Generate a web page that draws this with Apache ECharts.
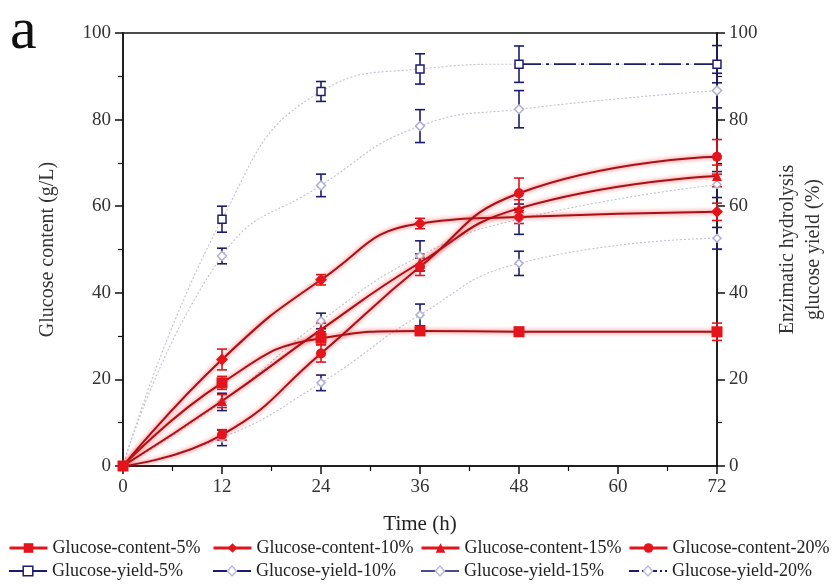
<!DOCTYPE html>
<html><head><meta charset="utf-8">
<script src="https://cdn.jsdelivr.net/npm/echarts@6/dist/echarts.min.js"></script>
<style>html,body{margin:0;padding:0;background:#fff}#c{width:836px;height:584px}</style>
</head><body><div id="c"></div>
<script>
// ---- data ----
const times = [0, 12, 24, 36, 48, 72];
const xTicks = [0, 12, 24, 36, 48, 60, 72];
const yTicks = [0, 20, 40, 60, 80, 100];

const content5 = [0, 19.2, 29.5, 31.2, 31.0, 31.0];
const content5Err = [0, 1.5, 1.5, 1.0, 1.0, 2.0];
const content10 = [0, 24.6, 43.0, 56.0, 57.5, 58.7];
const content10Err = [0, 2.4, 1.2, 1.2, 1.5, 2.0];
const content15 = [0, 15.0, 31.5, 47.0, 59.5, 67.0];
const content15Err = [0, 1.5, 1.5, 2.0, 2.0, 2.5];
const content20 = [0, 7.2, 26.0, 46.0, 63.0, 71.4];
const content20Err = [0, 1.2, 2.0, 2.0, 3.5, 4.0];

const yield5 = [0, 57.0, 86.5, 91.7, 92.8, 92.8];
const yield5Err = [0, 3.0, 2.3, 3.5, 4.2, 4.3];
const yield10 = [0, 48.5, 64.8, 78.5, 82.4, 86.7];
const yield10Err = [0, 1.8, 2.6, 3.8, 4.3, 4.0];
const yield15 = [0, 14.8, 33.5, 48.5, 57.0, 65.0];
const yield15Err = [0, 2.0, 1.8, 3.5, 3.5, 3.0];
const yield20 = [0, 6.5, 19.2, 34.9, 46.8, 52.6];
const yield20Err = [0, 1.8, 1.8, 2.5, 2.8, 2.5];

const names = ['Glucose-content-5%', 'Glucose-content-10%', 'Glucose-content-15%', 'Glucose-content-20%',
               'Glucose-yield-5%', 'Glucose-yield-10%', 'Glucose-yield-15%', 'Glucose-yield-20%'];

// ---- helpers ----
const RED = '#e3141c', REDLINE = '#a80f17', NAVY = '#1c1c6e', LIGHT = '#aeb0d4', DOT = '#c0c0d2';
const FONT = 'Liberation Serif';

function pairs(vals) { return times.map((t, i) => [t, vals[i]]); }
function errData(vals, errs) {
  return times.map((t, i) => [t, vals[i] - errs[i], vals[i] + errs[i]]).filter((d, i) => errs[i] > 0);
}
function errSeries(vals, errs, color, yIdx) {
  return {
    type: 'custom', yAxisIndex: yIdx, silent: true, z: 3,
    data: errData(vals, errs),
    renderItem: function (params, api) {
      const x = api.value(0), lo = api.value(1), hi = api.value(2);
      const t = api.coord([x, hi]), b = api.coord([x, lo]);
      const w = 5, st = { stroke: color, lineWidth: 1.6 };
      return { type: 'group', children: [
        { type: 'line', shape: { x1: t[0], y1: t[1], x2: b[0], y2: b[1] }, style: st },
        { type: 'line', shape: { x1: t[0] - w, y1: t[1], x2: t[0] + w, y2: t[1] }, style: st },
        { type: 'line', shape: { x1: b[0] - w, y1: b[1], x2: b[0] + w, y2: b[1] }, style: st }
      ]};
    }
  };
}
function redLine(name, vals, symbol, size) {
  return {
    name: name, type: 'line', yAxisIndex: 0, data: pairs(vals), smooth: 0.5,
    symbol: symbol, symbolSize: size, z: 5,
    itemStyle: { color: RED },
    lineStyle: { color: REDLINE, width: 2, shadowColor: 'rgba(255,30,30,0.8)', shadowBlur: 4 }
  };
}
function yieldLine(name, vals, symbol, size, border) {
  return {
    name: name, type: 'line', yAxisIndex: 1, data: pairs(vals), smooth: 0.5,
    symbol: symbol, symbolSize: size, z: 4,
    itemStyle: { color: '#fff', borderColor: border, borderWidth: 1.5 },
    lineStyle: { color: DOT, width: 1.1, type: [2, 2] }
  };
}

const legendStyles = [
  { lineStyle: { color: RED, width: 3 }, itemStyle: { color: RED } },
  { lineStyle: { color: RED, width: 3 }, itemStyle: { color: RED } },
  { lineStyle: { color: RED, width: 3 }, itemStyle: { color: RED } },
  { lineStyle: { color: RED, width: 3 }, itemStyle: { color: RED } },
  { lineStyle: { color: NAVY, width: 2, type: 'solid' }, itemStyle: { color: '#fff', borderColor: NAVY, borderWidth: 1.5 } },
  { lineStyle: { color: NAVY, width: 2, type: 'solid' }, itemStyle: { color: '#fff', borderColor: LIGHT, borderWidth: 1.2 } },
  { lineStyle: { color: '#4a4a90', width: 2, type: 'solid' }, itemStyle: { color: '#fff', borderColor: LIGHT, borderWidth: 1.2 } },
  { lineStyle: { color: NAVY, width: 2, type: [10, 3, 2, 3] }, itemStyle: { color: '#fff', borderColor: LIGHT, borderWidth: 1.2 } }
];
const legendLeft = [8, 212, 420, 628];
const legendTop = [539, 562];
const legends = names.map((n, i) => ({
  data: [Object.assign({ name: n }, legendStyles[i])],
  left: legendLeft[i % 4], top: legendTop[Math.floor(i / 4)],
  itemWidth: 38, itemHeight: 12, itemGap: 0, padding: 0, selectedMode: false,
  textStyle: { fontFamily: FONT, fontSize: 18, color: '#222', padding: [0, 0, 0, 0] }
}));

const axisCommon = {
  min: 0, max: 100, interval: 20,
  axisLine: { show: true, lineStyle: { color: '#111', width: 1.5 } },
  axisTick: { show: true, length: 8, lineStyle: { color: '#111', width: 1.5 } },
  minorTick: { show: true, splitNumber: 2, length: 5, lineStyle: { color: '#111', width: 1.2 } },
  splitLine: { show: false },
  axisLabel: { fontFamily: FONT, fontSize: 19, color: '#333', margin: 12 },
  nameLocation: 'middle', nameRotate: 90,
  nameTextStyle: { fontFamily: FONT, fontSize: 20, color: '#333', lineHeight: 26 }
};

const option = {
  animation: false,
  backgroundColor: '#fff',
  grid: { left: 123, right: 119, top: 33, bottom: 118, show: true, borderColor: '#111', borderWidth: 1.5 },
  legend: legends,
  graphic: [{ type: 'text', left: 10, top: 2, style: { text: 'a', fontFamily: FONT, fontSize: 60, fill: '#111' } }],
  xAxis: {
    type: 'value', min: 0, max: 72, interval: 12,
    axisLine: { lineStyle: { color: '#111', width: 1.5 } },
    axisTick: { length: 8, lineStyle: { color: '#111', width: 1.5 } },
    minorTick: { show: true, splitNumber: 2, length: 5, lineStyle: { color: '#111', width: 1.2 } },
    splitLine: { show: false },
    axisLabel: { fontFamily: FONT, fontSize: 19, color: '#333', margin: 12,
      formatter: v => xTicks.includes(v) ? String(v) : '' },
    name: 'Time (h)', nameLocation: 'middle', nameGap: 48,
    nameTextStyle: { fontFamily: FONT, fontSize: 21, color: '#222' }
  },
  yAxis: [
    Object.assign({}, axisCommon, { type: 'value', position: 'left', name: 'Glucose content (g/L)', nameGap: 62,
      axisLabel: Object.assign({}, axisCommon.axisLabel, { formatter: v => yTicks.includes(v) ? String(v) : '' }) }),
    Object.assign({}, axisCommon, { type: 'value', position: 'right', name: 'Enzimatic hydrolysis\nglucose yield (%)', nameGap: 58,
      axisLabel: Object.assign({}, axisCommon.axisLabel, { formatter: v => yTicks.includes(v) ? String(v) : '' }) })
  ],
  series: [
    yieldLine('Glucose-yield-5%', yield5, 'rect', 8, NAVY),
    yieldLine('Glucose-yield-10%', yield10, 'diamond', 9, LIGHT),
    yieldLine('Glucose-yield-15%', yield15, 'diamond', 8, LIGHT),
    yieldLine('Glucose-yield-20%', yield20, 'diamond', 8, LIGHT),
    {
      type: 'line', yAxisIndex: 1, data: pairs(yield5).slice(4), symbol: 'none', z: 4, silent: true,
      lineStyle: { color: NAVY, width: 1.8, type: [22, 5, 3, 5] }
    },
    errSeries(yield5, yield5Err, NAVY, 1),
    errSeries(yield10, yield10Err, NAVY, 1),
    errSeries(yield15, yield15Err, NAVY, 1),
    errSeries(yield20, yield20Err, NAVY, 1),
    errSeries(content5, content5Err, RED, 0),
    errSeries(content10, content10Err, RED, 0),
    errSeries(content15, content15Err, RED, 0),
    errSeries(content20, content20Err, RED, 0),
    redLine('Glucose-content-5%', content5, 'rect', 11),
    redLine('Glucose-content-10%', content10, 'diamond', 12),
    redLine('Glucose-content-15%', content15, 'triangle', 10),
    redLine('Glucose-content-20%', content20, 'circle', 10)
  ]
};
const chart = echarts.init(document.getElementById('c'), null, { renderer: 'canvas' });
chart.setOption(option);
</script></body></html>
